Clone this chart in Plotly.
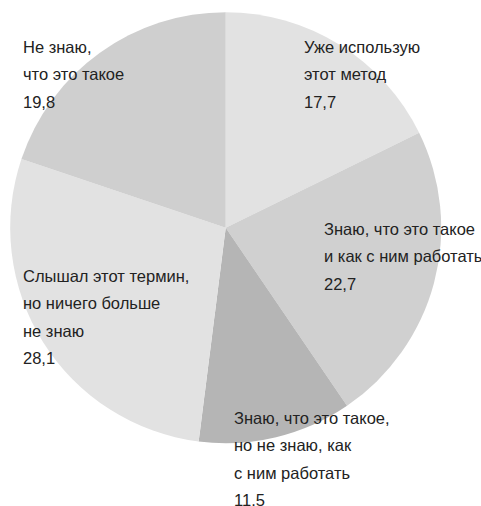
import plotly.graph_objects as go

categories = [
    "Уже использую этот метод",
    "Знаю, что это такое и как с ним работать",
    "Знаю, что это такое, но не знаю, как с ним работать",
    "Слышал этот термин, но ничего больше не знаю",
    "Не знаю, что это такое",
]
values = [17.7, 22.7, 11.5, 28.1, 19.8]
value_labels = ["17,7", "22,7", "11.5", "28,1", "19,8"]
label_lines = [
    ["Уже использую", "этот метод"],
    ["Знаю, что это такое", "и как с ним работать"],
    ["Знаю, что это такое,", "но не знаю, как", "с ним работать"],
    ["Слышал этот термин,", "но ничего больше", "не знаю"],
    ["Не знаю,", "что это такое"],
]
colors = ["#e2e2e2", "#d0d0d0", "#b5b5b5", "#e2e2e2", "#cfcfcf"]

W, H = 481, 506
# label anchor (left x, first-line center y) in pixels
label_pos = [(302, 47), (322, 229), (232, 418), (21, 276), (21, 47)]
line_step = 27.4

fig = go.Figure(go.Pie(
    labels=categories,
    values=values,
    sort=False,
    direction="clockwise",
    rotation=0,
    marker=dict(colors=colors, line=dict(width=0)),
    textinfo="none",
    hoverinfo="label+value",
    showlegend=False,
    domain=dict(x=[10.2 / W, 441.2 / W], y=[(H - 443.2) / H, (H - 12.2) / H]),
))

annotations = []
for lines, val, (px, py) in zip(label_lines, value_labels, label_pos):
    for i, t in enumerate(lines + [val]):
        annotations.append(dict(
            x=px / W, y=1 - (py + i * line_step) / H,
            xref="paper", yref="paper",
            xanchor="left", yanchor="middle",
            text=t, showarrow=False,
            font=dict(family="Liberation Sans, Arial, sans-serif",
                      size=16.5, color="#222222"),
        ))

fig.update_layout(
    width=W, height=H,
    margin=dict(l=0, r=0, t=0, b=0),
    paper_bgcolor="white",
    plot_bgcolor="white",
    annotations=annotations,
)

fig.write_html("out.html")
